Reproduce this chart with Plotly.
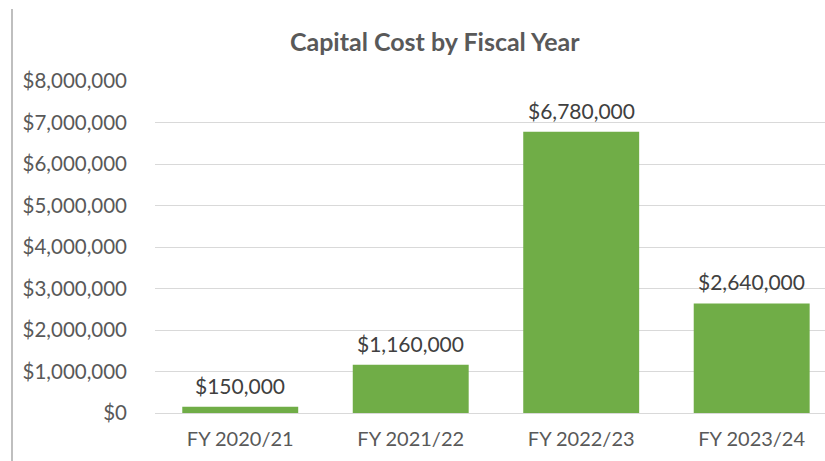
import plotly.graph_objects as go

categories = ["FY 2020/21", "FY 2021/22", "FY 2022/23", "FY 2023/24"]
values = [150000, 1160000, 6780000, 2640000]
tick_vals = [0, 1000000, 2000000, 3000000, 4000000, 5000000, 6000000, 7000000, 8000000]
tick_text = ["$0", "$1,000,000", "$2,000,000", "$3,000,000", "$4,000,000",
             "$5,000,000", "$6,000,000", "$7,000,000", "$8,000,000"]
labels = ["${:,.0f}".format(v) for v in values]

FONT = "Lato, 'Open Sans', sans-serif"
xs = list(range(len(categories)))

fig = go.Figure(go.Bar(
    x=xs, y=values,
    marker=dict(color="#70AD47", line=dict(width=0)),
    width=0.68, hoverinfo="skip",
))

for x, v, t in zip(xs, values, labels):
    fig.add_annotation(x=x, y=v, text=t, showarrow=False, xanchor="center",
                       yanchor="bottom", yshift=7,
                       font=dict(family=FONT, size=21, color="#404040"))

fig.update_layout(
    width=825, height=461,
    margin=dict(l=155, r=0, t=81, b=48),
    paper_bgcolor="white", plot_bgcolor="white",
    title=dict(text="<b>Capital Cost by Fiscal Year</b>", x=0.527, xanchor="center",
               y=0.909, yanchor="middle",
               font=dict(family=FONT, size=25, color="#595959")),
    showlegend=False,
    xaxis=dict(tickvals=xs, ticktext=categories,
               range=[-0.5, 3.43], showgrid=False, zeroline=False,
               showline=False, ticks="", ticklabelstandoff=12,
               tickfont=dict(family=FONT, size=20, color="#595959")),
    yaxis=dict(range=[0, 8000000], tickvals=tick_vals, ticktext=tick_text,
               showgrid=True, gridcolor="#D9D9D9", gridwidth=1,
               zeroline=True, zerolinecolor="#D9D9D9", zerolinewidth=1,
               showline=False, ticks="", ticklabelstandoff=27,
               tickfont=dict(family=FONT, size=20.5, color="#595959")),
    shapes=[dict(type="line", xref="paper", yref="paper",
                 x0=(12 - 155) / 670, x1=(12 - 155) / 670,
                 y0=(412 - 461) / 332, y1=(412 - 8) / 332,
                 line=dict(color="#BFBFBF", width=2))],
)

fig.write_html("out.html")
